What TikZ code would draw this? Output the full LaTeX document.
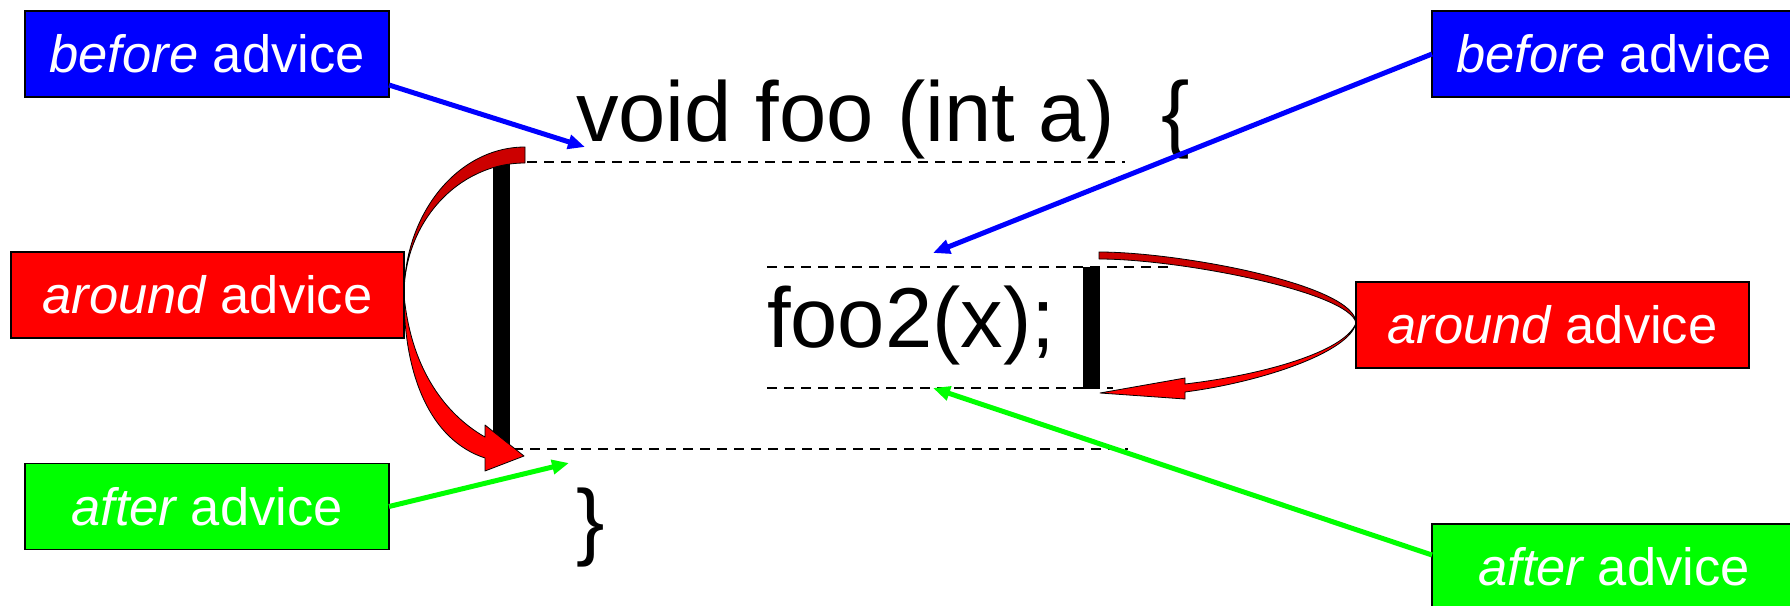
\documentclass[tikz,border=0pt]{standalone}
\usepackage{fontspec}
\setmainfont{Liberation Sans}
\usetikzlibrary{arrows.meta,calc}
\definecolor{pblue}{RGB}{0,0,255}
\definecolor{pgreen}{RGB}{0,255,0}
\definecolor{pred}{RGB}{255,0,0}
\definecolor{pdred}{RGB}{204,0,0}
\begin{document}
\begin{tikzpicture}[x=1pt,y=-1pt,
  box/.style={draw=black,line width=1.5pt,inner sep=0pt,outer sep=0pt,minimum height=86pt,
    minimum width=364pt,text=white,font=\fontsize{52.5pt}{60pt}\selectfont,text height=37.6pt,text depth=0pt},
  code/.style={inner sep=0pt,outer sep=0pt,anchor=base west,font=\fontsize{85pt}{100pt}\selectfont},
  guide/.style={line width=2.7pt,dash pattern=on 10pt off 7pt},
  bar/.style={fill=black},
  bluearrow/.style={draw=pblue,line width=5pt,-{Triangle[length=17pt,width=14pt]}},
  greenarrow/.style={draw=pgreen,line width=5pt,-{Triangle[length=17pt,width=14pt]}},
  backband/.style={fill=pdred,draw=black,line width=0.8pt,line join=round},
  frontband/.style={fill=pred,draw=black,line width=0.8pt,line join=round}]
\useasboundingbox (0,0) rectangle (1790,605);

% guide lines
\draw[guide] (510,162) -- (1125,162);
\draw[guide] (513,449) -- (1128,449);
\draw[guide] (767,267) -- (1168,267);
\draw[guide] (767,388) -- (1113,388);

% bars
\fill[bar] (493,162) rectangle (510,448);
\fill[bar] (1083,267) rectangle (1100,389);

% code text
\node[code] (sig) at (576,141) {void foo (int a)\ \ \{};
\node[code] (call) at (767,347) {foo2(x);};
\node[code] (close) at (576,549) {\}};

% left around arrow
\filldraw[backband] (404,295) .. controls (404,213.3) and (458.2,147) .. (525,147)
  -- (525,163) .. controls (458.2,163) and (404,222.1) .. (404,295) -- cycle;
\filldraw[frontband] (404,295) .. controls (404,375) and (430,440) .. (485,458)
  -- (485,471) -- (524,456) -- (485,425) -- (485,437)
  .. controls (455,420) and (412,380) .. (404,295) -- cycle;

% right around arrow
\filldraw[backband] (1099,252) .. controls (1180,252) and (1356,285) .. (1356,323)
  .. controls (1350,292) and (1180,259) .. (1099,259) -- cycle;
\filldraw[frontband] (1356,323) .. controls (1350,352) and (1262,382) .. (1185,392)
  -- (1185,399) -- (1100,393) -- (1185,378) -- (1185,384)
  .. controls (1262,375) and (1345,352) .. (1356,323) -- cycle;

% boxes
\node[box,fill=pblue] (b1) at (207,54) {\itshape before\upshape{} advice};
\node[box,fill=pblue] (b2) at (1614,54) {\itshape before\upshape{} advice};
\node[box,fill=pred,minimum width=393pt] (r1) at (207.5,295) {\itshape around\upshape{} advice};
\node[box,fill=pred,minimum width=393pt] (r2) at (1552.5,325) {\itshape around\upshape{} advice};
\node[box,fill=pgreen] (a1) at (207,506.5) {\itshape after\upshape{} advice};
\node[box,fill=pgreen] (a2) at (1614,567) {\itshape after\upshape{} advice};

% target points
\coordinate (t1) at (585,147);
\coordinate (t2) at (933,253);
\coordinate (t3) at (569,463);
\coordinate (t4) at (933,388);

% connectors
\draw[bluearrow] ([yshift=12pt]b1.south east) -- (t1);
\draw[bluearrow] (b2.west) -- (t2);
\draw[greenarrow] (a1.east) -- (t3);
\draw[greenarrow] ([yshift=12pt]a2.west) -- (t4);
\end{tikzpicture}
\end{document}
